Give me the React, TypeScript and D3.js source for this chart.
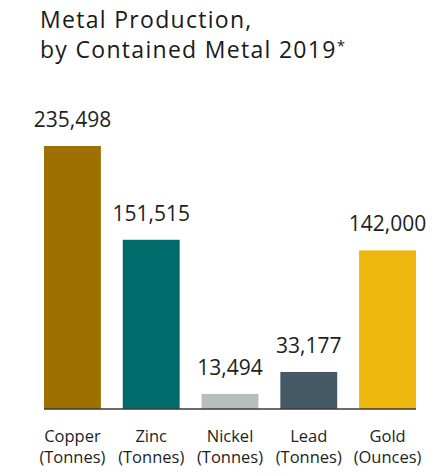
import React from "react";
import * as d3 from "d3";

const metals = ["Copper", "Zinc", "Nickel", "Lead", "Gold"];
const units = ["(Tonnes)", "(Tonnes)", "(Tonnes)", "(Tonnes)", "(Ounces)"];
const production = [235498, 151515, 13494, 33177, 142000];
const colors = ["#9e7000", "#006b6b", "#b5beb9", "#445865", "#edb70e"];

const WIDTH = 442;
const HEIGHT = 476;
const BASE = 409;

const App = () => {
  const x = d3
    .scaleBand<string>()
    .domain(metals)
    .range([44, 416])
    .paddingInner(0.278)
    .paddingOuter(0);

  const y = d3
    .scaleLinear()
    .domain([0, d3.max(production)!])
    .range([BASE, 146]);

  const fmt = d3.format(",");
  const font = "'Open Sans', 'Noto Sans', sans-serif";

  return (
    <svg
      width={WIDTH}
      height={HEIGHT}
      style={{ position: "absolute", left: 0, top: 0, background: "#fff" }}
    >
      <g fontFamily={font} fill="#1a1a1a">
        <text x={40} y={28} fontSize={23} letterSpacing={1.3}>
          Metal Production,
        </text>
        <text x={40} y={58} fontSize={23} letterSpacing={1.3}>
          by Contained Metal 2019
          <tspan fontSize={15} dy={-7}>*</tspan>
        </text>
      </g>

      {metals.map((m, i) => {
        const cx = x(m)! + x.bandwidth() / 2;
        return (
          <g key={m}>
            <rect
              x={x(m)}
              y={y(production[i])}
              width={x.bandwidth()}
              height={BASE - y(production[i])}
              fill={colors[i]}
            />
            <text
              x={cx}
              y={y(production[i]) - 19}
              textAnchor="middle"
              fontFamily={font}
              fontSize={21}
              fill="#1e1e1e"
            >
              {fmt(production[i])}
            </text>
            <text
              x={cx}
              y={442}
              textAnchor="middle"
              fontFamily={font}
              fontSize={16.5}
              fill="#1e1e1e"
            >
              {m}
            </text>
            <text
              x={cx}
              y={463}
              textAnchor="middle"
              fontFamily={font}
              fontSize={16.5}
              fill="#1e1e1e"
            >
              {units[i]}
            </text>
          </g>
        );
      })}

      <line x1={44} x2={416} y1={BASE} y2={BASE} stroke="#3a3a3a" strokeWidth={1.5} />
    </svg>
  );
};

export default App;
